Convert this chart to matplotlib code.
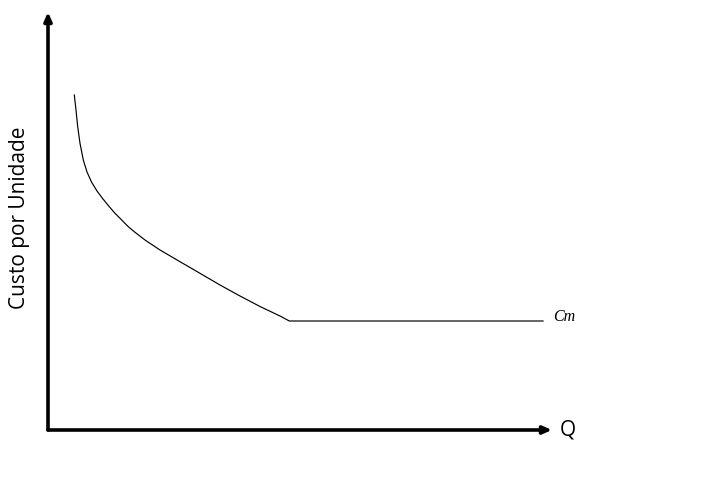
import numpy as np
import matplotlib
matplotlib.use('Agg')
import matplotlib.pyplot as plt

# curva de custo unitário (Q, custo)
q_curve = [26.3, 28.0, 29.7, 32.0, 35.3, 39.0, 43.5, 49.0, 55.0, 60.3, 67.0,
           73.7, 80.3, 87.0, 97.0, 112.0, 132.0, 152.0, 172.0, 192.0, 212.0,
           232.0, 241.3, 495.0]
c_curve = [335.0, 320.0, 303.3, 286.7, 270.0, 258.0, 248.0, 239.0, 231.0,
           224.5, 216.7, 210.0, 203.3, 197.7, 190.0, 180.0, 168.3, 156.7,
           145.0, 134.0, 123.5, 114.0, 109.0, 109.0]

Q_MAX = 504
C_MAX = 418

fig = plt.figure(figsize=(7.06, 4.83), dpi=100)
ax = fig.add_axes([0, 0, 1, 1])
ax.set_xlim(-48, 658)
ax.set_ylim(-53, 430)
ax.axis('off')

# eixos com setas
arrow = dict(arrowstyle='-|>,head_length=0.5,head_width=0.22', color='black',
             lw=2.6, shrinkA=0, shrinkB=0)
ax.annotate('', xy=(0, C_MAX), xytext=(0, 0), arrowprops=arrow)
ax.annotate('', xy=(Q_MAX, 0), xytext=(0, 0), arrowprops=arrow)

ax.plot(q_curve, c_curve, color='black', lw=0.85, solid_joinstyle='round')

ax.text(q_curve[-1] + 10, c_curve[-1] + 4, 'Cm', family='Liberation Serif',
        style='italic', fontsize=11.5, ha='left', va='center')
ax.text(Q_MAX + 8, 0, 'Q', family='Open Sans', fontsize=15,
        ha='left', va='center')
ax.text(-28, 212, 'Custo por Unidade', family='Open Sans', fontsize=15,
        rotation=90, ha='center', va='center')

fig.savefig('out.png', dpi=100)
